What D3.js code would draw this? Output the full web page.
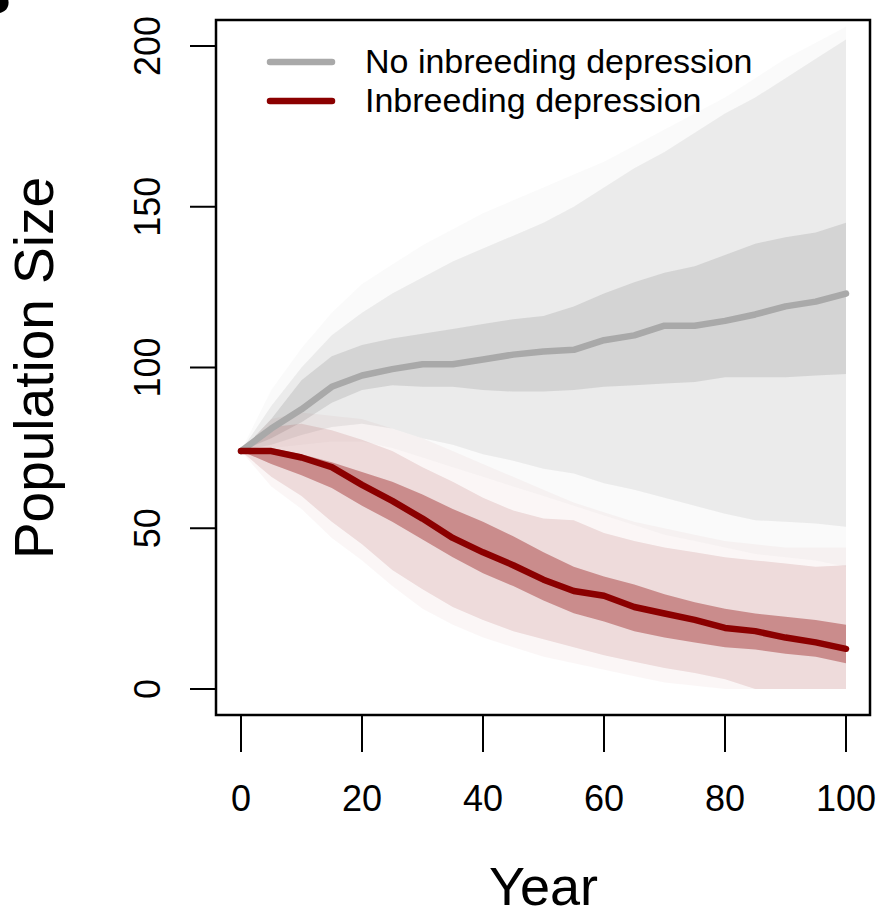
<!DOCTYPE html>
<meta charset="utf-8">
<style>
  body { margin: 0; background: #fff; }
  text { font-family: "Liberation Sans", Arial, Helvetica, sans-serif; fill: #000; }
</style>
<script src="https://d3js.org/d3.v7.min.js"></script>
<div id="chart"></div>
<script>

// years sampled every 5
var years = [0,5,10,15,20,25,30,35,40,45,50,55,60,65,70,75,80,85,90,95,100];

// No inbreeding depression (grey)
var noId_med   = [74,81,87,94,97.5,99.5,101,101,102.5,104,105,105.5,108.5,110,113,113,114.5,116.5,119,120.5,123];
var noId_q25   = [74,78,83,89,93,94.5,94,94,93,92.5,92.5,93,94,94.5,95,95.5,97,97,97,97.5,98];
var noId_q75   = [74,84,96,103.5,107,109,110.5,112,113.5,115,116,119,123,126.5,129.5,131.5,135,138.5,140.5,142,145];
var noId_lo    = [74,76,79,81.5,82.5,81,78,76,73,71,68.5,67,64,62,59.5,57,54.5,52.5,52,51.5,50.5];
var noId_hi    = [74,88,100,110,117,123,128,133,137,141,145,150,156,162,167,173,179,184,190,196,202];
var noId_min   = [74,75,76,77,77,75,72,69,66,63,60,57,54,51,48,46,44,42,41,40,38];
var noId_max   = [74,93,106,117,126,132,138,143,148,152,156,160,164,169,174,179,184,190,196,201,206];

// Inbreeding depression (red)
var id_med   = [74,74,72,69,63.5,58.5,53,47,42.5,38.5,34,30.5,29,25.5,23.5,21.5,19,18,16,14.5,12.5];
var id_q25   = [74,70,66.5,62.5,57,52,46.5,41,36,32,27.5,23.6,21,18,16,14.5,13,12.3,11,10,8];
var id_q75   = [74,75,73,70.5,67.5,64.5,60.5,56,52,47.5,42.5,38,35,32.5,29.5,27,25,23.5,22.5,21.5,20];
var id_lo    = [74,66,60,52,45,37,31,25.5,21.5,18,15.5,13,10.5,8.5,6.5,5,3,0,0,0,0];
var id_hi    = [74,81.5,82.5,80.5,77.5,74,69,64.5,59.5,55.5,53,52.5,48.5,46,44,42.5,41,40,39,38,38.5];
var id_min   = [74,63,56,47,40,32,25,20,16,13,10,8,6,4,2,1,0,0,0,0,0];
var id_max   = [74,84,86,85,84,81,78,74,70,66,62,58,55,52,50,48,46,45,44,44,44];

var xTicks = [0,20,40,60,80,100];
var yTicks = [0,50,100,150,200];
var legendLabels = ["No inbreeding depression", "Inbreeding depression"];
var legendColors = ["#a9a9a9", "#8b0000"];

var W = 882, H = 918;
var box = {left: 216, right: 870, top: 20, bottom: 715};

var svg = d3.select("#chart").append("svg")
  .attr("width", W).attr("height", H);

var x = d3.scaleLinear().domain([0, 100]).range([241, 846]);
var y = d3.scaleLinear().domain([0, 200]).range([689, 46]);

function band(lo, hi) {
  return d3.area()
    .x(function(d, i) { return x(years[i]); })
    .y0(function(d, i) { return y(lo[i]); })
    .y1(function(d, i) { return y(hi[i]); })(years);
}
function line(v) {
  return d3.line()
    .x(function(d, i) { return x(years[i]); })
    .y(function(d, i) { return y(v[i]); })(years);
}

var plot = svg.append("g");

// grey envelopes
plot.append("path").attr("d", band(noId_min, noId_max)).attr("fill", "#bebebe").attr("fill-opacity", 0.08);
plot.append("path").attr("d", band(noId_lo, noId_hi)).attr("fill", "#bebebe").attr("fill-opacity", 0.24);
plot.append("path").attr("d", band(noId_q25, noId_q75)).attr("fill", "#bebebe").attr("fill-opacity", 0.5);

// red envelopes
plot.append("path").attr("d", band(id_min, id_max)).attr("fill", "#8b0000").attr("fill-opacity", 0.035);
plot.append("path").attr("d", band(id_lo, id_hi)).attr("fill", "#8b0000").attr("fill-opacity", 0.11);
plot.append("path").attr("d", band(id_q25, id_q75)).attr("fill", "#8b0000").attr("fill-opacity", 0.36);

// medians
plot.append("path").attr("d", line(noId_med)).attr("fill", "none")
  .attr("stroke", legendColors[0]).attr("stroke-width", 6.5)
  .attr("stroke-linejoin", "round").attr("stroke-linecap", "round");
plot.append("path").attr("d", line(id_med)).attr("fill", "none")
  .attr("stroke", legendColors[1]).attr("stroke-width", 6.5)
  .attr("stroke-linejoin", "round").attr("stroke-linecap", "round");

// box
svg.append("rect")
  .attr("x", box.left).attr("y", box.top)
  .attr("width", box.right - box.left).attr("height", box.bottom - box.top)
  .attr("fill", "none").attr("stroke", "#000").attr("stroke-width", 2.5);

// x axis
var xAxis = svg.append("g");
xAxis.selectAll("line").data(xTicks).enter().append("line")
  .attr("x1", function(d) { return x(d); }).attr("x2", function(d) { return x(d); })
  .attr("y1", box.bottom).attr("y2", box.bottom + 37)
  .attr("stroke", "#000").attr("stroke-width", 2);
xAxis.selectAll("text").data(xTicks).enter().append("text")
  .attr("x", function(d) { return x(d); }).attr("y", 811)
  .attr("text-anchor", "middle").style("font-size", "36px")
  .text(function(d) { return d; });

// y axis
var yAxis = svg.append("g");
yAxis.selectAll("line").data(yTicks).enter().append("line")
  .attr("x1", 190).attr("x2", box.left)
  .attr("y1", function(d) { return y(d); }).attr("y2", function(d) { return y(d); })
  .attr("stroke", "#000").attr("stroke-width", 2);
yAxis.selectAll("text").data(yTicks).enter().append("text")
  .attr("transform", function(d) { return "translate(160," + y(d) + ") rotate(-90)"; })
  .attr("text-anchor", "middle").style("font-size", "36px")
  .text(function(d) { return d; });

// axis titles
svg.append("text")
  .attr("x", x(50)).attr("y", 905)
  .attr("text-anchor", "middle").style("font-size", "54px")
  .text("Year");
svg.append("text")
  .attr("transform", "translate(53,368) rotate(-90)")
  .attr("text-anchor", "middle").style("font-size", "55px")
  .text("Population Size");

// panel letter, mostly off the page as in the source figure
svg.append("text")
  .attr("x", -32).attr("y", 14)
  .style("font-size", "60px").style("font-weight", "bold")
  .text("B");

// legend
var legend = svg.append("g");
legend.selectAll("line").data(legendLabels).enter().append("line")
  .attr("x1", 270).attr("x2", 332)
  .attr("y1", function(d, i) { return 62 + i * 39; })
  .attr("y2", function(d, i) { return 62 + i * 39; })
  .attr("stroke", function(d, i) { return legendColors[i]; })
  .attr("stroke-width", 6.5).attr("stroke-linecap", "round");
legend.selectAll("text").data(legendLabels).enter().append("text")
  .attr("x", 365)
  .attr("y", function(d, i) { return 73 + i * 39; })
  .style("font-size", "34px")
  .text(function(d) { return d; });

</script>
